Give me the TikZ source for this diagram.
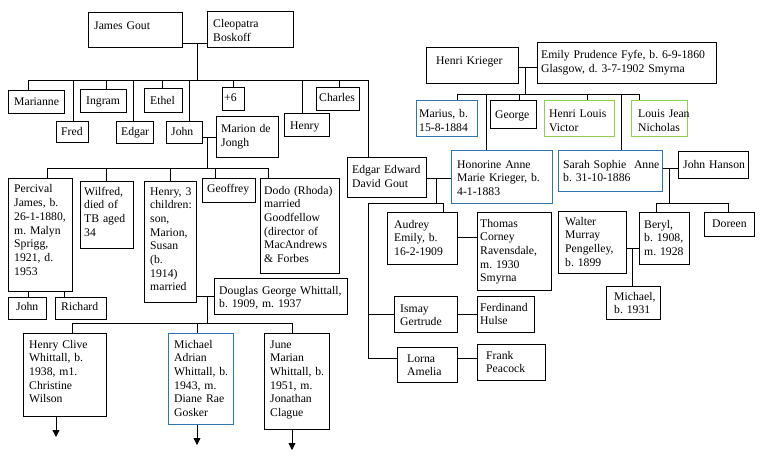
\documentclass[tikz,border=0pt]{standalone}
\usepackage{fontspec}
\setmainfont{Liberation Serif}
\usetikzlibrary{fit,arrows.meta}
\frenchspacing
\definecolor{bxblue}{HTML}{2E75B6}
\definecolor{bxgreen}{HTML}{92D050}
\tikzset{
  boxst/.style={rectangle, inner sep=0pt, line width=1pt},
  txt/.style={inner sep=0pt, align=left, text width=170pt, font=\frenchspacing\fontsize{11.7}{13.7}\selectfont},
  conn/.style={line width=0.9pt, black},
  down/.style={conn, -{Triangle[width=7pt,length=7pt]}}
}
% \pb[colour]{name}{x1,y1}{x2,y2}{tx,ty}{text}
\newcommand{\pb}[6][black]{%
  \node[boxst, draw=#1, fit={(#3)(#4)}] (#2) {};
  \node[txt, anchor=base west] (#2t) at (#5) {#6};}
\begin{document}
\begin{tikzpicture}[x=1pt,y=-1pt]
\fill[white] (0,0) rectangle (762,457);
\useasboundingbox (0,0) rectangle (762,457);

% ---------- Gout family ----------
\pb{james}{88,13}{182,48}{94,30}{James Gout}
\pb{cleo}{207,12}{293,48}{213,28}{Cleopatra\\Boskoff}
\pb{marianne}{8,91}{64,114}{14,106}{Marianne}
\pb{fred}{56,122}{88,143}{61,136}{Fred}
\pb{ingram}{80,90}{126,113}{86,105}{Ingram}
\pb{edgar}{116,122}{153,144}{121,136}{Edgar}
\pb{ethel}{144,89}{182,113}{150,105}{Ethel}
\pb{john}{166,122}{202,144}{171,136}{John}
\pb{plussix}{222,88}{244,111}{224,102}{+6}
\pb{marion}{216,117}{278,158}{221,133}{Marion de\\Jongh}
\pb{henry}{284,114}{329,137}{290,130}{Henry}
\pb{charles}{316,88}{359,111}{319,102}{Charles}

\coordinate (jgm) at (197,43);
\coordinate (jgs) at (197,80);
\coordinate (gl) at (28,80);
\coordinate (gr) at (368,80);
\draw[conn] (james.east |- jgm) -- (cleo.west |- jgm);
\draw[conn] (jgm) -- (jgs);
\draw[conn] (gl) -- (gr);
\draw[conn] (28,80) -- (marianne.north -| 28,80);
\draw[conn] (73,80) -- (fred.north -| 73,80);
\draw[conn] (106,80) -- (ingram.north -| 106,80);
\draw[conn] (133,80) -- (edgar.north -| 133,80);
\draw[conn] (162,80) -- (ethel.north -| 162,80);
\draw[conn] (189,80) -- (john.north -| 189,80);
\draw[conn] (233,80) -- (plussix.north -| 233,80);
\draw[conn] (302,80) -- (henry.north -| 302,80);
\draw[conn] (339,80) -- (charles.north -| 339,80);

% John + Marion
\pb{percival}{8,178}{72,291}{14,193}{Percival\\James, b.\\26-1-1880,\\m. Malyn\\Sprigg,\\1921, d.\\1953}
\pb{wilfred}{80,181}{133,248}{84,195}{Wilfred,\\died of\\TB aged\\34}
\pb{henrythree}{144,181}{196,302}{150,195}{Henry, 3\\children:\\son,\\Marion,\\Susan\\(b.\\1914)\\married}
\pb{geoffrey}{202,178}{255,202}{207,192}{Geoffrey}
\pb{dodo}{260,178}{339,273}{264,194}{Dodo (Rhoda)\\married\\Goodfellow\\(director of\\MacAndrews\\\& Forbes}
\pb{douglas}{214,278}{347,314}{219,294}{Douglas George Whittall,\\b. 1909, m. 1937}
\pb{johnp}{8,297}{46,319}{16,310}{John}
\pb{richard}{55,297}{106,319}{61,310}{Richard}

\coordinate (jmm) at (207,137);
\coordinate (jms) at (207,168);
\draw[conn] (john.east |- jmm) -- (marion.west |- jmm);
\draw[conn] (jmm) -- (jms);
\draw[conn] (47,168) -- (268,168);
\draw[conn] (47,168) -- (percival.north -| 47,168);
\draw[conn] (106,168) -- (wilfred.north -| 106,168);
\draw[conn] (170,168) -- (henrythree.north -| 170,168);
\draw[conn] (215,168) -- (geoffrey.north -| 215,168);
\draw[conn] (268,168) -- (dodo.north -| 268,168);
\draw[conn] (percival.south -| 28,0) -- (johnp.north -| 28,0);
\draw[conn] (percival.south -| 64,0) -- (richard.north -| 64,0);

% Henry + Douglas
\pb{hcw}{23,333}{106,416}{29,348}{Henry Clive\\Whittall, b.\\1938, m1.\\Christine\\Wilson}
\pb[bxblue]{maw}{168,333}{233,424}{174,348}{Michael\\Adrian\\Whittall, b.\\1943, m.\\Diane Rae\\Gosker}
\pb{jmw}{264,333}{329,429}{270,348}{June\\Marian\\Whittall, b.\\1951, m.\\Jonathan\\Clague}

\coordinate (hdm) at (207,296);
\coordinate (hds) at (207,323);
\draw[conn] (henrythree.east |- hdm) -- (douglas.west |- hdm);
\draw[conn] (hdm) -- (hds);
\draw[conn] (72,323) -- (292,323);
\draw[conn] (72,323) -- (hcw.north -| 72,323);
\draw[conn] (197,323) -- (maw.north -| 197,323);
\draw[conn] (292,323) -- (jmw.north -| 292,323);
\coordinate (ahcw) at (56,437);
\coordinate (amaw) at (197,445);
\coordinate (ajmw) at (292,450);
\draw[down] (hcw.south -| ahcw) -- (ahcw);
\draw[down] (maw.south -| amaw) -- (amaw);
\draw[down] (jmw.south -| ajmw) -- (ajmw);

% ---------- Krieger family ----------
\pb{hk}{426,48}{518,84}{436,65}{Henri Krieger}
\pb{emily}{537,43}{716,84}{541,59}{Emily Prudence Fyfe, b. 6-9-1860\\Glasgow, d. 3-7-1902 Smyrna}
\pb[bxblue]{marius}{416,101}{477,137}{419,118}{Marius, b.\\15-8-1884}
\pb{george}{490,101}{536,129}{495,119}{George}
\pb[bxgreen]{hlv}{544,101}{614,137}{549,118}{Henri Louis\\Victor}
\pb[bxgreen]{ljn}{631,101}{687,137}{638,118}{Louis Jean\\Nicholas}
\pb[bxblue]{honorine}{451,151}{552,203}{457,168}{Honorine Anne\\Marie Krieger, b.\\4-1-1883}
\pb[bxblue]{sarah}{558,151}{662,191}{563,168}{Sarah Sophie\ \ Anne\\b. 31-10-1886}
\pb{hanson}{678,152}{748,178}{683,168}{John Hanson}
\pb{eedg}{347,158}{426,197}{352,174}{Edgar Edward\\David Gout}

\draw[conn] (368,80) -- (eedg.north -| 368,80);

\coordinate (hem) at (525,67);
\coordinate (hes) at (525,94);
\draw[conn] (hk.east |- hem) -- (emily.west |- hem);
\draw[conn] (hem) -- (hes);
\draw[conn] (457,94) -- (639,94);
\draw[conn] (457,94) -- (marius.north -| 457,94);
\draw[conn] (486,94) -- (honorine.north -| 486,94);
\draw[conn] (519,94) -- (george.north -| 519,94);
\draw[conn] (587,94) -- (hlv.north -| 587,94);
\draw[conn] (621,94) -- (sarah.north -| 621,94);
\draw[conn] (639,94) -- (ljn.north -| 639,94);

% Edgar Edward + Honorine
\pb{audrey}{387,212}{457,264}{394,228}{Audrey\\Emily, b.\\16-2-1909}
\pb{thomas}{477,212}{551,290}{480,227}{Thomas\\Corney\\Ravensdale,\\m. 1930\\Smyrna}
\pb{ismay}{394,296}{457,332}{400,312}{Ismay\\Gertrude}
\pb{ferd}{477,296}{534,332}{480,311}{Ferdinand\\Hulse}
\pb{lorna}{397,347}{457,382}{407,362}{Lorna\\Amelia}
\pb{frank}{477,344}{545,380}{486,359}{Frank\\Peacock}

\coordinate (ehm) at (436,178);
\coordinate (ehs) at (436,203);
\coordinate (ehl) at (368,203);
\coordinate (ehb) at (368,358);
\draw[conn] (eedg.east |- ehm) -- (honorine.west |- ehm);
\draw[conn] (ehm) -- (ehs);
\draw[conn] (ehl) -- (443,203);
\draw[conn] (443,203) -- (audrey.north -| 443,203);
\draw[conn] (ehl) -- (ehb);
\draw[conn] (368,314) -- (ismay.west |- 368,314);
\draw[conn] (ehb) -- (lorna.west |- ehb);
\draw[conn] (audrey.east |- 0,237) -- (thomas.west |- 0,237);
\draw[conn] (ismay.east |- 0,314) -- (ferd.west |- 0,314);
\draw[conn] (lorna.east |- 0,358) -- (frank.west |- 0,358);

% Sarah + John Hanson
\pb{walter}{558,211}{626,273}{565,225}{Walter\\Murray\\Pengelley,\\b. 1899}
\pb{beryl}{639,212}{689,264}{644,228}{Beryl,\\b. 1908,\\m. 1928}
\pb{doreen}{704,212}{754,236}{712,227}{Doreen}
\pb{michael}{606,286}{660,319}{614,300}{Michael,\\b. 1931}

\coordinate (shm) at (669,168);
\coordinate (shs) at (669,203);
\draw[conn] (sarah.east |- shm) -- (hanson.west |- shm);
\draw[conn] (shm) -- (shs);
\draw[conn] (656,203) -- (728,203);
\draw[conn] (656,203) -- (beryl.north -| 656,203);
\draw[conn] (728,203) -- (doreen.north -| 728,203);
\coordinate (wbm) at (632,248);
\draw[conn] (walter.east |- wbm) -- (beryl.west |- wbm);
\draw[conn] (wbm) -- (michael.north -| wbm);
\end{tikzpicture}
\end{document}
